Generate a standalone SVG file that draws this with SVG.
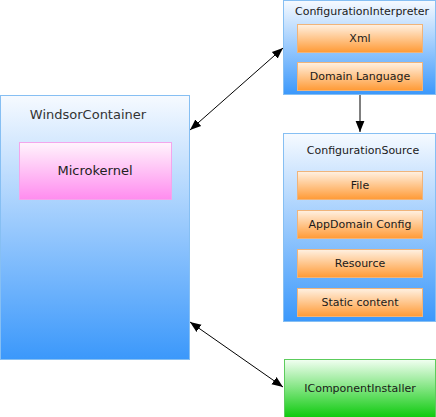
<svg xmlns="http://www.w3.org/2000/svg" width="436" height="417" viewBox="0 0 436 417">
<defs>
<linearGradient id="gBlue" x1="0" y1="0" x2="0" y2="1"><stop offset="0" stop-color="#f6faff"/><stop offset="1" stop-color="#3b98fb"/></linearGradient>
<linearGradient id="gPink" x1="0" y1="0" x2="0" y2="1"><stop offset="0" stop-color="#fff4fc"/><stop offset="1" stop-color="#ff8cef"/></linearGradient>
<linearGradient id="gOrange" x1="0" y1="0" x2="0" y2="1"><stop offset="0" stop-color="#fff1e2"/><stop offset="1" stop-color="#ff9a35"/></linearGradient>
<linearGradient id="gGreen" x1="0" y1="0" x2="0" y2="1"><stop offset="0" stop-color="#f2fff2"/><stop offset="1" stop-color="#05c805"/></linearGradient>
<marker id="ah" viewBox="0 0 10 10" refX="10" refY="5" markerWidth="11" markerHeight="11" markerUnits="userSpaceOnUse" orient="auto-start-reverse"><path d="M0,1 L10,5 L0,9 Z" fill="#000"/></marker>
</defs>
<style>
.blue{fill:url(#gBlue);stroke:#86bff3;stroke-width:1}
.pink{fill:url(#gPink);stroke:#f3a6ec;stroke-width:1}
.orange{fill:url(#gOrange);stroke:#f0b47a;stroke-width:1}
.green{fill:url(#gGreen);stroke:#5ccc5c;stroke-width:1}
text{font-family:"DejaVu Sans","Liberation Sans",sans-serif;fill:#1a1a1a;text-anchor:middle}
.t{font-size:11px}
.b{font-size:13px;fill:#333}
.c{stroke:#000;stroke-width:1;fill:none}
</style>
<g id="connectors">
<line class="c" x1="190" y1="130" x2="283" y2="48" marker-start="url(#ah)" marker-end="url(#ah)"/>
<line class="c" x1="360" y1="95" x2="360" y2="132" marker-end="url(#ah)"/>
<line class="c" x1="190" y1="322" x2="283" y2="387" marker-start="url(#ah)" marker-end="url(#ah)"/>
</g>
<g id="windsor">
<rect class="blue" x="0.5" y="95.5" width="189" height="264"/>
<text class="b" x="88" y="119">WindsorContainer</text>
</g>
<g id="microkernel">
<rect class="pink" x="19.5" y="142.5" width="152" height="57"/>
<text class="b" x="95" y="175" style="fill:#222">Microkernel</text>
</g>
<g id="interpreter">
<rect class="blue" x="283.5" y="0.5" width="152" height="94"/>
<text class="t" x="362" y="15">ConfigurationInterpreter</text>
</g>
<g id="xml">
<rect class="orange" x="297.5" y="24.5" width="125" height="28"/>
<text class="t" x="360" y="42">Xml</text>
</g>
<g id="domainlanguage">
<rect class="orange" x="297.5" y="62.5" width="125" height="28"/>
<text class="t" x="360" y="80">Domain Language</text>
</g>
<g id="source">
<rect class="blue" x="283.5" y="133.5" width="152" height="188"/>
<text class="t" x="363" y="154">ConfigurationSource</text>
</g>
<g id="file">
<rect class="orange" x="297.5" y="171.5" width="125" height="28"/>
<text class="t" x="360" y="189">File</text>
</g>
<g id="appdomain">
<rect class="orange" x="297.5" y="210.5" width="125" height="28"/>
<text class="t" x="360" y="228">AppDomain Config</text>
</g>
<g id="resource">
<rect class="orange" x="297.5" y="249.5" width="125" height="28"/>
<text class="t" x="360" y="267">Resource</text>
</g>
<g id="static">
<rect class="orange" x="297.5" y="288.5" width="125" height="28"/>
<text class="t" x="360" y="306">Static content</text>
</g>
<g id="installer">
<rect class="green" x="284.5" y="359.5" width="151" height="60"/>
<text class="t" x="360" y="392">IComponentInstaller</text>
</g>
</svg>
